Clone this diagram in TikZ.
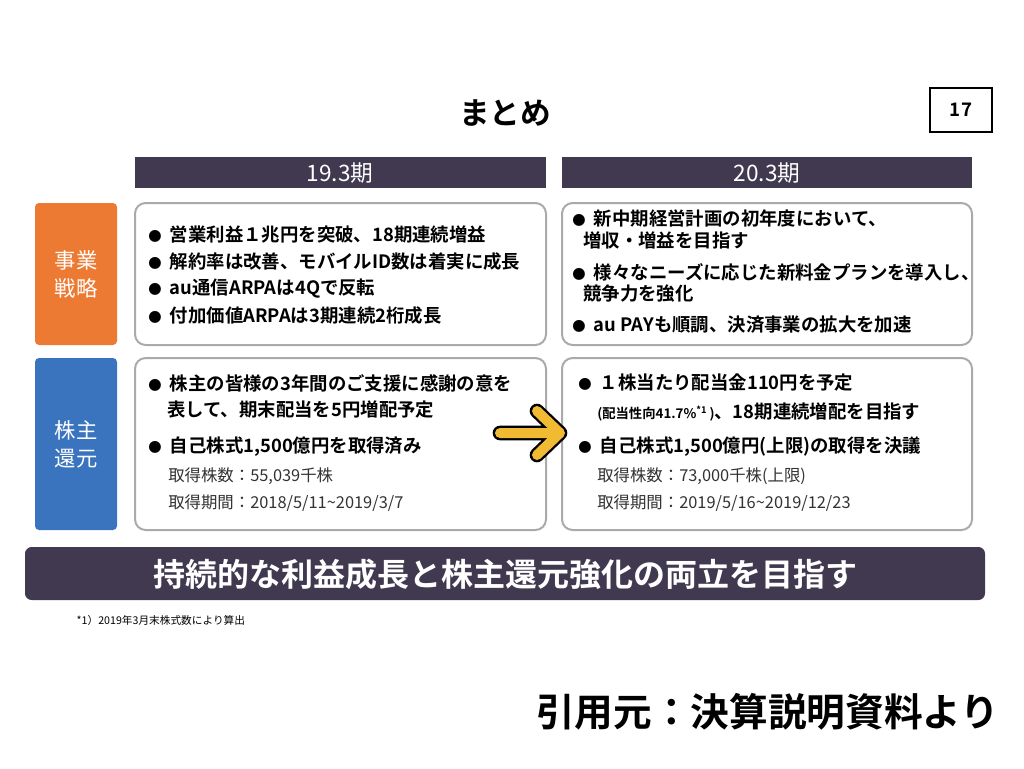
\documentclass[tikz,border=0pt]{standalone}
\usepackage{fontspec}
\setmainfont{Noto Sans CJK JP}[BoldFont={Noto Sans CJK JP Bold}]
\definecolor{barcol}{RGB}{64,57,80}
\definecolor{orangecol}{RGB}{237,122,50}
\definecolor{bluecol}{RGB}{58,115,190}
\definecolor{boxline}{RGB}{170,170,170}
\definecolor{arrowcol}{RGB}{240,186,50}
\newcommand{\blt}{{\fontsize{10}{12}\selectfont ●}\ \ }
\tikzset{
  headbar/.style={fill=barcol, text=white, font=\fontsize{16}{18}\selectfont},
  sidebox/.style={text=white, align=center, font=\fontsize{16}{21}\selectfont},
  contentbox/.style={draw=boxline, line width=1.5pt, rounded corners=8pt},
  item/.style={anchor=west, inner sep=0pt, font=\bfseries\fontsize{13.8}{15}\selectfont},
  subitem/.style={anchor=west, inner sep=0pt, font=\fontsize{12.3}{14}\selectfont, text=black!80}
}
\begin{document}
\begin{tikzpicture}[x=0.75pt,y=-0.75pt]
\useasboundingbox (0,0) rectangle (1024,768);
\fill[white] (0,0) rectangle (1024,768);
% title
\node[font=\bfseries\fontsize{23}{26}\selectfont] (title) at (505,113) {まとめ};
\draw[line width=1.5pt] (930,88) rectangle (992,132);
\node[font=\bfseries\fontsize{14}{16}\selectfont] (page) at (961,110) {17};
% headers
\fill[headbar] (135,157) rectangle (546,188);
\node[text=white, font=\fontsize{17}{19}\selectfont] (h1) at (340,173) {19.3期};
\fill[headbar] (562,157) rectangle (972,188);
\node[text=white, font=\fontsize{17}{19}\selectfont] (h2) at (767,173) {20.3期};
% side labels
\fill[orangecol, rounded corners=3pt] (35,203) rectangle (117,345);
\node[sidebox] (strat) at (76,274) {事業\\戦略};
\fill[bluecol, rounded corners=3pt] (35,358) rectangle (117,530);
\node[sidebox] (ret) at (76,444) {株主\\還元};
% content boxes
\draw[contentbox] (135,203) rectangle (546,345);
\draw[contentbox] (562,203) rectangle (972,345);
\draw[contentbox] (135,358) rectangle (546,530);
\draw[contentbox] (562,358) rectangle (972,530);
% 19.3 strategy
\node[item] (a1) at (148,235) {\blt 営業利益１兆円を突破、18期連続増益};
\node[item] (a2) at (148,262) {\blt 解約率は改善、モバイルID数は着実に成長};
\node[item] (a3) at (148,289) {\blt au通信ARPAは4Qで反転};
\node[item] (a4) at (148,316) {\blt 付加価値ARPAは3期連続2桁成長};
% 20.3 strategy
\node[item] (b1) at (572,218) {\blt 新中期経営計画の初年度において、};
\node[item] (b2) at (583,240) {増収・増益を目指す};
\node[item] (b3) at (572,272) {\blt 様々なニーズに応じた新料金プランを導入し、};
\node[item] (b4) at (583,294) {競争力を強化};
\node[item] (b5) at (572,325) {\blt au PAYも順調、決済事業の拡大を加速};
% 19.3 return
\node[item] (c1) at (148,383) {\blt 株主の皆様の3年間のご支援に感謝の意を};
\node[item] (c2) at (167,410) {表して、期末配当を5円増配予定};
\node[item] (c3) at (148,447) {\blt 自己株式1,500億円を取得済み};
\node[subitem] (c4) at (168,476) {取得株数：55,039千株};
\node[subitem] (c5) at (168,503) {取得期間：2018/5/11\textasciitilde 2019/3/7};
% 20.3 return
\node[item] (d1) at (578,383) {\blt １株当たり配当金110円を予定};
\node[item] (d2) at (597,412) {{\fontsize{10}{11}\selectfont (配当性向41.7\%\textsuperscript{*1}\,)}、18期連続増配を目指す};
\node[item] (d3) at (578,447) {\blt 自己株式1,500億円(上限)の取得を決議};
\node[subitem] (d4) at (597,476) {取得株数：73,000千株(上限)};
\node[subitem] (d5) at (597,503) {取得期間：2019/5/16\textasciitilde 2019/12/23};
% arrow
\coordinate (arrS) at (500,433);
\coordinate (arrE) at (560,433);
\draw[black, line width=11pt, line cap=round, line join=round]
  (arrS) -- (arrE) (537,411) -- (arrE) -- (537,455);
\draw[arrowcol, line width=7.5pt, line cap=round, line join=round]
  (arrS) -- (arrE) (537,411) -- (arrE) -- (537,455);
% bottom bar
\fill[barcol, rounded corners=5pt] (25,547) rectangle (985,600);
\node[text=white, font=\bfseries\fontsize{24}{26}\selectfont] (concl) at (505,574) {持続的な利益成長と株主還元強化の両立を目指す};
\node[anchor=west, font=\fontsize{8}{9}\selectfont] (note) at (72,620) {*1）2019年3月末株式数により算出};
\node[anchor=east, font=\bfseries\fontsize{29}{32}\selectfont] (src) at (1004,712) {引用元：決算説明資料より};
\end{tikzpicture}
\end{document}
